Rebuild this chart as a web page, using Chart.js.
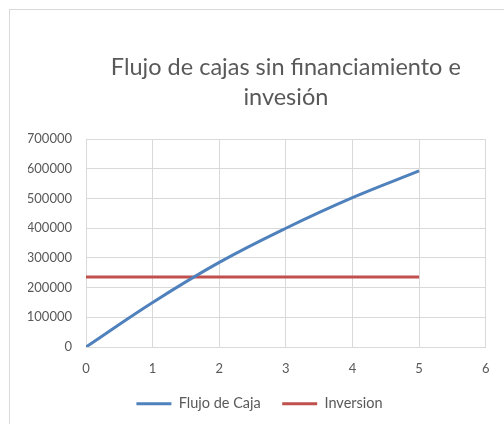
<!DOCTYPE html>
<html>
<head>
<meta charset="utf-8">
<script src="https://cdn.jsdelivr.net/npm/chart.js@4.4.1/dist/chart.umd.min.js"></script>
<style>
  html, body { margin: 0; padding: 0; background: #fff; overflow: hidden; }
  #wrap { position: relative; width: 504px; height: 424px; overflow: hidden; }
  #frame { position: absolute; left: 9px; top: 9px; width: 600px; height: 600px;
           border-left: 1px solid #d9d9d9; border-top: 1px solid #d9d9d9; pointer-events: none; }
</style>
</head>
<body>
<div id="wrap">
  <canvas id="chart_flujo" width="504" height="424"></canvas>
  <div id="frame"></div>
</div>
<script>
var chartTitle = ['Flujo de cajas sin financiamiento e', 'invesión'];
var years = [0, 1, 2, 3, 4, 5];
var flujoCaja = [0, 150000, 285000, 400000, 503000, 593000];
var inversion = [236000, 236000, 236000, 236000, 236000, 236000];
var xTicks = [0, 1, 2, 3, 4, 5, 6];
var yTicks = [0, 100000, 200000, 300000, 400000, 500000, 600000, 700000];

var gridColor = '#d9d9d9';
var textColor = '#595959';

function toPoints(xs, ys) {
    return xs.map(function (x, i) { return { x: x, y: ys[i] }; });
}

var ctx = document.getElementById('chart_flujo').getContext('2d');
var myChart = new Chart(ctx, {
    type: 'line',
    data: {
        datasets: [{
            label: 'Flujo de Caja',
            data: toPoints(years, flujoCaja),
            borderColor: '#4f81bd',
            backgroundColor: '#4f81bd',
            borderWidth: 3,
            pointRadius: 0,
            tension: 0.4
        }, {
            label: 'Inversion',
            data: toPoints(years, inversion),
            borderColor: '#c0504d',
            backgroundColor: '#c0504d',
            borderWidth: 3,
            pointRadius: 0
        }]
    },
    options: {
        responsive: false,
        animation: false,
        layout: { padding: { left: 28, right: 13, top: 52, bottom: 3 } },
        font: { family: 'Lato' },
        scales: {
            x: {
                type: 'linear',
                min: xTicks[0],
                max: xTicks[xTicks.length - 1],
                afterBuildTicks: function (axis) { axis.ticks = xTicks.map(function (v) { return { value: v }; }); },
                afterFit: function (axis) { axis.height = 28; },
                grid: { color: gridColor, drawTicks: false },
                border: { color: gridColor },
                ticks: { color: textColor, font: { family: 'Lato', size: 13 }, padding: 14.5 }
            },
            y: {
                min: yTicks[0],
                max: yTicks[yTicks.length - 1],
                afterBuildTicks: function (axis) { axis.ticks = yTicks.map(function (v) { return { value: v }; }); },
                afterFit: function (axis) { axis.width = 58; },
                grid: { color: gridColor, drawTicks: false },
                border: { color: gridColor },
                ticks: { color: textColor, font: { family: 'Lato', size: 13 }, padding: 14,
                         callback: function (v) { return String(v); } }
            }
        },
        plugins: {
            title: {
                display: true,
                text: chartTitle,
                fullSize: false,
                color: textColor,
                font: { family: 'Lato', size: 23.5, weight: 'normal', lineHeight: 1.28 },
                padding: { top: 0, bottom: 27 }
            },
            legend: {
                position: 'bottom',
                labels: {
                    color: textColor,
                    font: { family: 'Lato', size: 14.5 },
                    boxWidth: 35,
                    boxHeight: 0,
                    padding: 21.5
                }
            },
            tooltip: { enabled: false }
        }
    }
});
</script>
</body>
</html>
